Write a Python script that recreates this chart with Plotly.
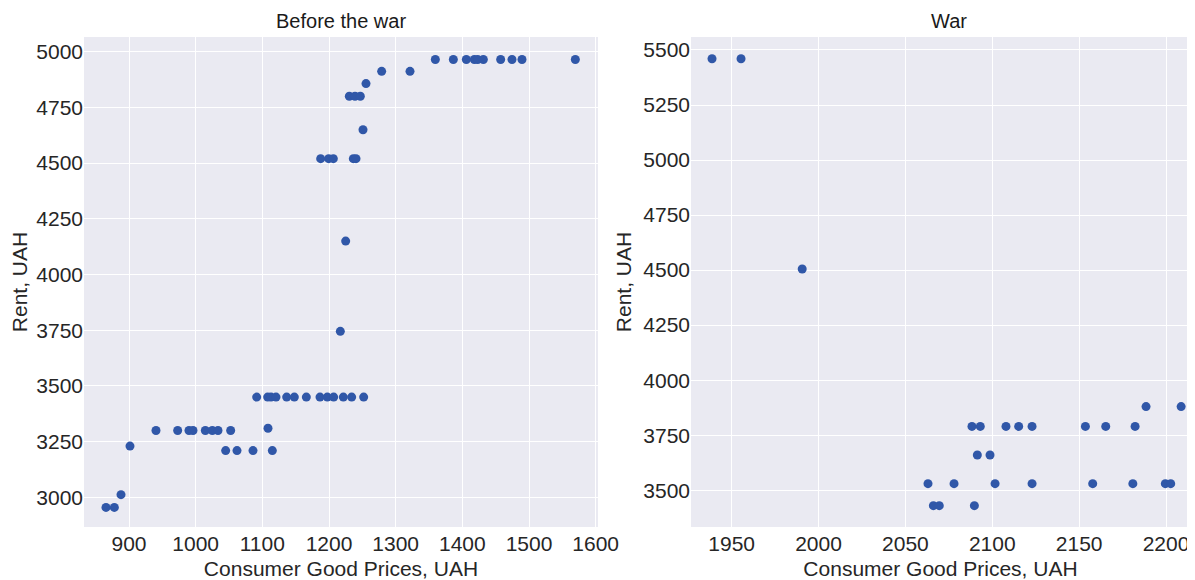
import plotly.graph_objects as go

# Before the war
before_price = [865.5, 878, 888, 901.5, 940.5, 973, 990, 996, 1014.5, 1025, 1033.5, 1052.5,
                1045, 1062, 1086, 1115, 1108.5,
                1091.5, 1108, 1113, 1120.5, 1136.5, 1148, 1166, 1186.5, 1197.5, 1207, 1221.5, 1234, 1252,
                1217, 1225,
                1187.5, 1199.5, 1206.5, 1236.5, 1240.5,
                1251, 1230.5, 1239, 1247, 1255.5, 1279, 1321.5,
                1359.5, 1386.5, 1406, 1418, 1423, 1431.5, 1457.5, 1474.5, 1489.5, 1569.5]
before_rent = [2955, 2955, 3012, 3230, 3300, 3300, 3300, 3300, 3300, 3300, 3300, 3300,
               3210, 3210, 3210, 3210, 3310,
               3450, 3450, 3450, 3450, 3450, 3450, 3450, 3450, 3450, 3450, 3450, 3450, 3450,
               3745, 4150,
               4520, 4520, 4520, 4520, 4520,
               4650, 4800, 4800, 4800, 4857, 4912, 4912,
               4965, 4965, 4965, 4965, 4965, 4965, 4965, 4965, 4965, 4965]

# War
war_price = [1938.7, 1955.4, 1990.6,
             2188.5, 2208.7,
             2088.3, 2093.1, 2107.9, 2115.2, 2122.9, 2153.6, 2165.3, 2182.2,
             2091.4, 2098.7,
             2063, 2078, 2101.6, 2122.9, 2157.8, 2180.9, 2199.6, 2202.7,
             2066.1, 2069.5, 2089.7]
war_rent = [5460, 5460, 4505,
            3880, 3880,
            3790, 3790, 3790, 3790, 3790, 3790, 3790, 3790,
            3660, 3660,
            3530, 3530, 3530, 3530, 3530, 3530, 3530, 3530,
            3430, 3430, 3430]

titles = ["Before the war", "War"]
x_title = "Consumer Good Prices, UAH"
y_title = "Rent, UAH"

OFF = 8  # default page body margin
W, H = 1195 - OFF, 580 - OFF
color = "#3057a8"
font = "Liberation Sans, Arial, sans-serif"


def fx(px):
    return (px - OFF) / W


fig = go.Figure()
fig.add_trace(go.Scatter(x=before_price, y=before_rent, mode="markers",
                         marker=dict(color=color, size=9), xaxis="x", yaxis="y"))
fig.add_trace(go.Scatter(x=war_price, y=war_rent, mode="markers",
                         marker=dict(color=color, size=9), xaxis="x2", yaxis="y2"))

axis_common = dict(showgrid=True, gridcolor="white", gridwidth=1.3, zeroline=False,
                   showline=False, ticks="", tickfont=dict(size=21, color="#262626", family=font),
                   automargin=False)

top, bottom = 37 - OFF, 580 - 527

fig.update_layout(
    width=W, height=H,
    margin=dict(l=0, r=0, t=top, b=bottom),
    plot_bgcolor="#EAEAF2", paper_bgcolor="white",
    showlegend=False,
    font=dict(family=font, color="#262626"),
    xaxis=dict(domain=[fx(84), fx(598)], range=[832.5, 1603.5],
               tickvals=[900, 1000, 1100, 1200, 1300, 1400, 1500, 1600], ticklabelstandoff=2,
               title=dict(text=x_title, font=dict(size=21), standoff=10), **axis_common),
    yaxis=dict(domain=[0, 1], range=[2867, 5066],
               tickvals=[3000, 3250, 3500, 3750, 4000, 4250, 4500, 4750, 5000],
               title=dict(text=y_title, font=dict(size=21), standoff=5), **axis_common),
    xaxis2=dict(domain=[fx(691), fx(1190)], range=[1926.6, 2213.8], anchor="y2",
                tickvals=[1950, 2000, 2050, 2100, 2150, 2200], ticklabelstandoff=2,
                title=dict(text=x_title, font=dict(size=21), standoff=10), **axis_common),
    yaxis2=dict(domain=[0, 1], range=[3333, 5559], anchor="x2",
                tickvals=[3500, 3750, 4000, 4250, 4500, 4750, 5000, 5250, 5500],
                title=dict(text=y_title, font=dict(size=21), standoff=5), **axis_common),
    annotations=[
        dict(text=titles[0], x=fx((84 + 598) / 2), y=1, xref="paper", yref="paper",
             xanchor="center", yanchor="bottom", yshift=3, showarrow=False,
             font=dict(size=20, color="#1a1a1a")),
        dict(text=titles[1], x=fx((691 + 1190) / 2 + 8), y=1, xref="paper", yref="paper",
             xanchor="center", yanchor="bottom", yshift=3, showarrow=False,
             font=dict(size=20, color="#1a1a1a")),
    ],
)

fig.write_html("out.html")
